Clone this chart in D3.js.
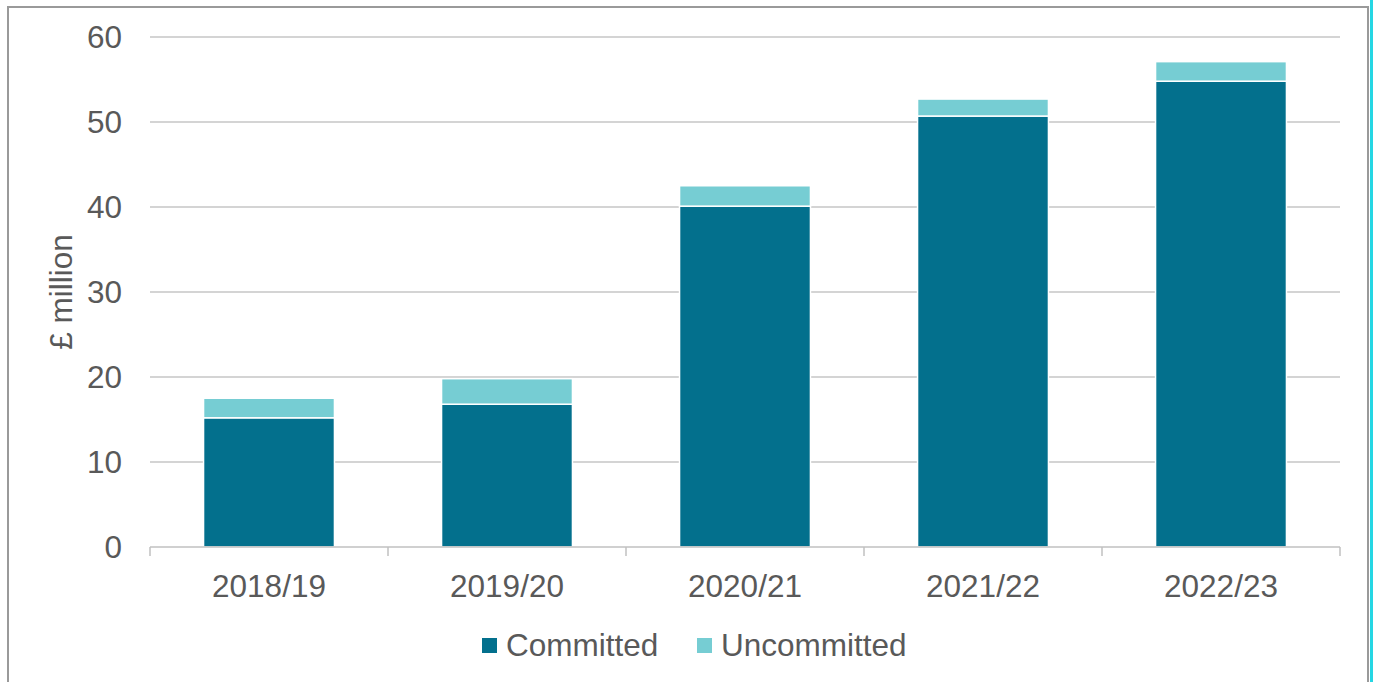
<!DOCTYPE html>
<html><head><meta charset="utf-8">
<script src="https://cdn.jsdelivr.net/npm/d3@7"></script>
<style>html,body{margin:0;padding:0;background:#fff;}svg{display:block;}</style>
</head><body>
<svg id="c" width="1375" height="682"></svg>
<script>
const categories = ["2018/19","2019/20","2020/21","2021/22","2022/23"];
const committed = [15.2, 16.8, 40.1, 50.7, 54.8];
const uncommitted = [2.3, 3.0, 2.4, 2.0, 2.3];
const yTicks = [0,10,20,30,40,50,60];
const seriesNames = ["Committed","Uncommitted"];
const seriesColors = ["#03708D","#76CDD3"];

(function(){
const svg = d3.select("#c");
const font = "Liberation Sans, Arial, sans-serif";
const textColor = "#595959";
const pLeft = 150, pRight = 1340, pTop = 37, pBottom = 547;

// frame
svg.append("path").attr("d","M8,682 L8,7 L1368,7 L1368,682").attr("fill","none").attr("stroke","#9a9a9a").attr("stroke-width",2);
svg.append("rect").attr("x",1370).attr("y",0).attr("width",3).attr("height",682).attr("fill","#25d6e3");

const x = d3.scaleBand().domain(categories).range([pLeft,pRight]).paddingInner(0.45).paddingOuter(0.225);
const y = d3.scaleLinear().domain([0,60]).range([pBottom,pTop]);

// gridlines
svg.append("g").selectAll("line").data(yTicks.filter(d=>d>0)).join("line")
  .attr("x1",pLeft).attr("x2",pRight).attr("y1",d=>y(d)).attr("y2",d=>y(d))
  .attr("stroke","#c6c6c6").attr("stroke-width",1.5);

// y labels
svg.append("g").selectAll("text").data(yTicks).join("text")
  .attr("x",122).attr("y",d=>y(d)).attr("dy","0.36em").attr("text-anchor","end")
  .attr("font-family",font).attr("font-size",31.5).attr("fill",textColor).text(d=>d);

// stacked data
const data = categories.map((c,i)=>({cat:c, Committed:committed[i], Uncommitted:uncommitted[i]}));
const stack = d3.stack().keys(seriesNames)(data);
svg.append("g").selectAll("g").data(stack).join("g")
  .attr("fill",(d,i)=>seriesColors[i])
  .selectAll("rect").data(d=>d).join("rect")
  .attr("x",d=>x(d.data.cat)).attr("width",x.bandwidth())
  .attr("y",d=>y(d[1])).attr("height",d=>y(d[0])-y(d[1]))
  .attr("stroke","#fff").attr("stroke-width",1.5);

// x axis
const xa = svg.append("g");
xa.append("line").attr("x1",pLeft).attr("x2",pRight).attr("y1",pBottom).attr("y2",pBottom).attr("stroke","#c0c0c0").attr("stroke-width",1.5);
const bounds = categories.map(c=>x(c)-x.step()*x.paddingInner()/2).concat([pRight]);
xa.selectAll("line.t").data(bounds).join("line").attr("class","t")
  .attr("x1",d=>d).attr("x2",d=>d).attr("y1",pBottom).attr("y2",pBottom+9)
  .attr("stroke","#c0c0c0").attr("stroke-width",1.5);
xa.selectAll("text").data(categories).join("text")
  .attr("x",d=>x(d)+x.bandwidth()/2).attr("y",597).attr("text-anchor","middle")
  .attr("font-family",font).attr("font-size",31.5).attr("fill",textColor).text(d=>d);

// y title
svg.append("text").attr("transform","translate(72,292) rotate(-90)").attr("text-anchor","middle")
  .attr("font-family",font).attr("font-size",31.5).attr("fill",textColor).text("£ million");

// legend
const leg = svg.append("g");
const legX = [482, 697];
seriesNames.forEach((s,i)=>{
  leg.append("rect").attr("x",legX[i]).attr("y",638).attr("width",15).attr("height",15).attr("fill",seriesColors[i]);
  leg.append("text").attr("x",legX[i]+24).attr("y",656).attr("font-family",font).attr("font-size",31.5).attr("fill",textColor).text(s);
});
})();
</script>
</body></html>
